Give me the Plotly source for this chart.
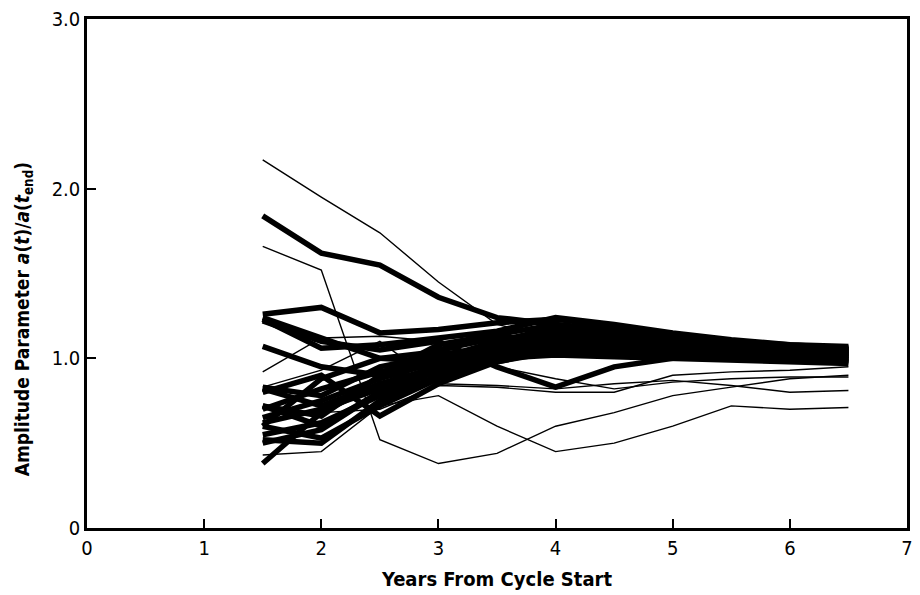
import plotly.graph_objects as go

years = [1.5, 2.0, 2.5, 3.0, 3.5, 4.0, 4.5, 5.0, 5.5, 6.0, 6.5]

thick_series = [
    [1.84, 1.62, 1.55, 1.36, 1.24, 1.20, 1.15, 1.11, 1.08, 1.06, 1.05],
    [1.26, 1.30, 1.15, 1.17, 1.21, 1.23, 1.19, 1.14, 1.10, 1.08, 1.06],
    [1.23, 1.06, 1.08, 1.12, 1.16, 1.24, 1.20, 1.15, 1.11, 1.08, 1.07],
    [1.07, 0.95, 0.90, 0.97, 1.05, 1.12, 1.10, 1.07, 1.04, 1.02, 1.01],
    [0.83, 0.78, 0.95, 1.02, 1.07, 1.14, 1.12, 1.09, 1.06, 1.04, 1.03],
    [0.82, 0.72, 0.85, 0.92, 1.00, 1.08, 1.07, 1.05, 1.03, 1.01, 1.00],
    [0.72, 0.60, 0.80, 0.95, 1.03, 1.06, 1.04, 1.02, 1.00, 0.99, 0.98],
    [0.65, 0.75, 0.88, 0.98, 1.04, 1.10, 1.09, 1.06, 1.04, 1.02, 1.02],
    [0.60, 0.53, 0.72, 0.88, 0.98, 1.04, 1.06, 1.05, 1.03, 1.01, 0.99],
    [0.52, 0.50, 0.75, 0.90, 1.00, 1.07, 1.08, 1.06, 1.05, 1.04, 1.03],
    [0.38, 0.68, 0.85, 0.95, 1.02, 1.09, 1.10, 1.08, 1.06, 1.05, 1.04],
    [1.22, 1.10, 1.05, 1.10, 0.95, 0.83, 0.95, 1.00, 1.02, 1.01, 1.00],
    [0.80, 0.90, 0.66, 0.85, 0.98, 1.05, 1.03, 1.02, 1.01, 1.00, 0.99],
    [0.55, 0.62, 0.78, 0.93, 1.06, 1.15, 1.14, 1.10, 1.07, 1.05, 1.04],
    [0.70, 0.82, 0.92, 1.00, 1.10, 1.18, 1.16, 1.12, 1.09, 1.06, 1.05],
    [0.62, 0.70, 0.82, 1.05, 1.12, 1.13, 1.11, 1.08, 1.05, 1.03, 1.02],
    [0.50, 0.58, 0.80, 0.97, 1.08, 1.16, 1.13, 1.10, 1.07, 1.05, 1.05],
    [0.72, 0.66, 0.90, 1.08, 1.14, 1.20, 1.17, 1.13, 1.09, 1.07, 1.06],
    [0.60, 0.88, 1.00, 1.04, 1.00, 1.02, 1.01, 1.00, 0.99, 0.98, 0.97],
    [1.24, 1.12, 1.00, 0.98, 1.08, 1.11, 1.09, 1.06, 1.04, 1.03, 1.02],
]

thin_series = [
    [2.17, 1.95, 1.74, 1.45, 1.20, 1.12, 1.10, 1.07, 1.05, 1.03, 1.02],
    [1.66, 1.52, 0.52, 0.38, 0.44, 0.60, 0.68, 0.78, 0.83, 0.88, 0.90],
    [0.43, 0.45, 0.72, 0.78, 0.60, 0.45, 0.50, 0.60, 0.72, 0.70, 0.71],
    [0.83, 0.93, 1.10, 0.85, 0.84, 0.82, 0.85, 0.87, 0.84, 0.80, 0.81],
    [0.92, 1.12, 1.13, 1.10, 0.95, 0.88, 0.82, 0.86, 0.88, 0.89, 0.89],
    [0.70, 0.68, 0.70, 0.84, 0.83, 0.80, 0.80, 0.90, 0.92, 0.93, 0.95],
]

x_ticks = [0, 1, 2, 3, 4, 5, 6, 7]
x_tick_labels = ["0", "1", "2", "3", "4", "5", "6", "7"]
y_ticks = [0, 1, 2, 3]
y_tick_labels = ["0", "1.0", "2.0", "3.0"]

FONT = "Liberation Sans Narrow, DejaVu Sans Condensed, Arial Narrow, sans-serif"

fig = go.Figure()
for s in thin_series:
    fig.add_trace(go.Scatter(x=years, y=s, mode="lines",
                             line=dict(color="black", width=1.4),
                             showlegend=False, hoverinfo="skip"))
for s in thick_series:
    fig.add_trace(go.Scatter(x=years, y=s, mode="lines",
                             line=dict(color="black", width=5.5),
                             showlegend=False, hoverinfo="skip"))

axis_common = dict(showline=True, linecolor="black", linewidth=2.5, mirror=True,
                   ticks="inside", ticklen=9, tickwidth=1.5, tickcolor="black",
                   showgrid=False, zeroline=False,
                   tickfont=dict(family=FONT, size=20, color="black"))

fig.update_layout(
    width=920, height=595,
    margin=dict(l=87, r=7, t=18, b=67),
    paper_bgcolor="white", plot_bgcolor="white",
    xaxis=dict(range=[0, 7], tickvals=x_ticks, ticktext=x_tick_labels,
               title=dict(text="<b>Years From Cycle Start</b>",
                          font=dict(family=FONT, size=20, color="black"), standoff=14),
               **axis_common),
    yaxis=dict(range=[0, 3], tickvals=y_ticks, ticktext=y_tick_labels,
               **axis_common),
    annotations=[dict(
        text="<b>Amplitude Parameter <i>a</i>(<i>t</i>)/<i>a</i>(<i>t</i><sub>end</sub>)</b>",
        xref="paper", yref="paper", x=-0.078, y=0.41, xanchor="center", yanchor="middle",
        textangle=-90, showarrow=False,
        font=dict(family=FONT, size=19, color="black"))],
)

fig.write_html("out.html")
